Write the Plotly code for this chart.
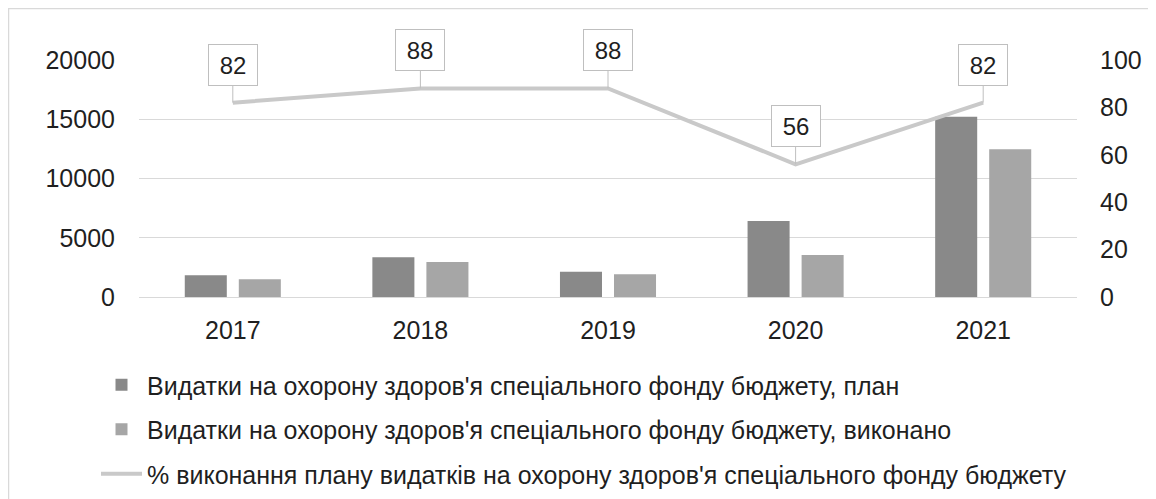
import plotly.graph_objects as go

years = ["2017", "2018", "2019", "2020", "2021"]
plan = [1830, 3350, 2140, 6410, 15215]
done = [1490, 2950, 1915, 3540, 12460]
pct = [82, 88, 88, 56, 82]

name_plan = "Видатки на охорону здоров'я спеціального фонду бюджету, план"
name_done = "Видатки на охорону здоров'я спеціального фонду бюджету, виконано"
name_pct = "% виконання плану видатків на охорону здоров'я спеціального фонду бюджету"

FONT = "Liberation Sans, Arial, sans-serif"
TXT = "#1f1f1f"
FS = 25
W, H = 1156, 499
OFF = 8  # page body margin
L, T = 139 - OFF, 60 - OFF
pw, ph = 938, 237
R = W - L - pw
B = H - T - ph


def px_x(x):
    return (x - OFF - L) / pw


def px_y(y):
    return (T + ph - (y - OFF)) / ph


idx = list(range(len(years)))

fig = go.Figure()
fig.add_trace(go.Bar(x=idx, y=plan, name=name_plan, marker_color="#898989",
                     marker_line_width=0, legendgroup="a"))
fig.add_trace(go.Bar(x=idx, y=done, name=name_done, marker_color="#a6a6a6",
                     marker_line_width=0, legendgroup="b"))
fig.add_trace(go.Scatter(x=idx, y=pct, name=name_pct, yaxis="y2", mode="lines",
                         line=dict(color="#c9c9c9", width=4), legendgroup="c"))

for i, p in zip(idx, pct):
    fig.add_annotation(x=i, y=p, xref="x", yref="y2", text=str(p),
                       showarrow=True, arrowhead=0, arrowcolor="#bfbfbf", arrowwidth=1,
                       ax=0, ay=-38, bgcolor="white", bordercolor="#bfbfbf",
                       borderwidth=1, borderpad=6, width=36, height=28,
                       font=dict(family=FONT, size=24, color=TXT))

fig.add_shape(type="rect", xref="paper", yref="paper",
              x0=px_x(OFF + 0.5), x1=px_x(1200), y0=px_y(560), y1=px_y(OFF + 0.5),
              line=dict(color="#d9d9d9", width=1.5), fillcolor="rgba(0,0,0,0)", layer="below")

fig.update_layout(
    width=W, height=H,
    margin=dict(l=L, r=R, t=T, b=B, pad=0, autoexpand=False),
    paper_bgcolor="white", plot_bgcolor="white",
    font=dict(family=FONT, size=FS, color=TXT),
    bargap=0.424, bargroupgap=0.222, barmode="group",
    showlegend=True,
    legend=dict(orientation="v", xref="container", yref="container",
                x=(96 - OFF) / W, xanchor="left", y=1 - (362 - OFF) / H, yanchor="top",
                font=dict(family=FONT, size=FS, color=TXT),
                tracegroupgap=9, itemwidth=41, bgcolor="rgba(0,0,0,0)"),
    xaxis=dict(range=[-0.5, len(years) - 0.5], tickmode="array", tickvals=idx, ticktext=years,
               showgrid=False, showline=False, zeroline=False, automargin=False,
               ticks="outside", ticklen=11, tickcolor="rgba(0,0,0,0)",
               tickfont=dict(size=FS, color=TXT)),
    yaxis=dict(range=[0, 20000], dtick=5000, showgrid=True, gridcolor="#d9d9d9", gridwidth=1,
               zeroline=True, zerolinecolor="#d9d9d9", zerolinewidth=1, showline=False,
               automargin=False,
               ticks="outside", ticklen=18, tickcolor="rgba(0,0,0,0)",
               tickfont=dict(size=FS, color=TXT), tickformat="d"),
    yaxis2=dict(range=[0, 100], dtick=20, overlaying="y", side="right", showgrid=False,
                zeroline=False, showline=False, automargin=False,
                ticks="outside", ticklen=17, tickcolor="rgba(0,0,0,0)",
                tickfont=dict(size=FS, color=TXT)),
)

fig.write_html("out.html")
